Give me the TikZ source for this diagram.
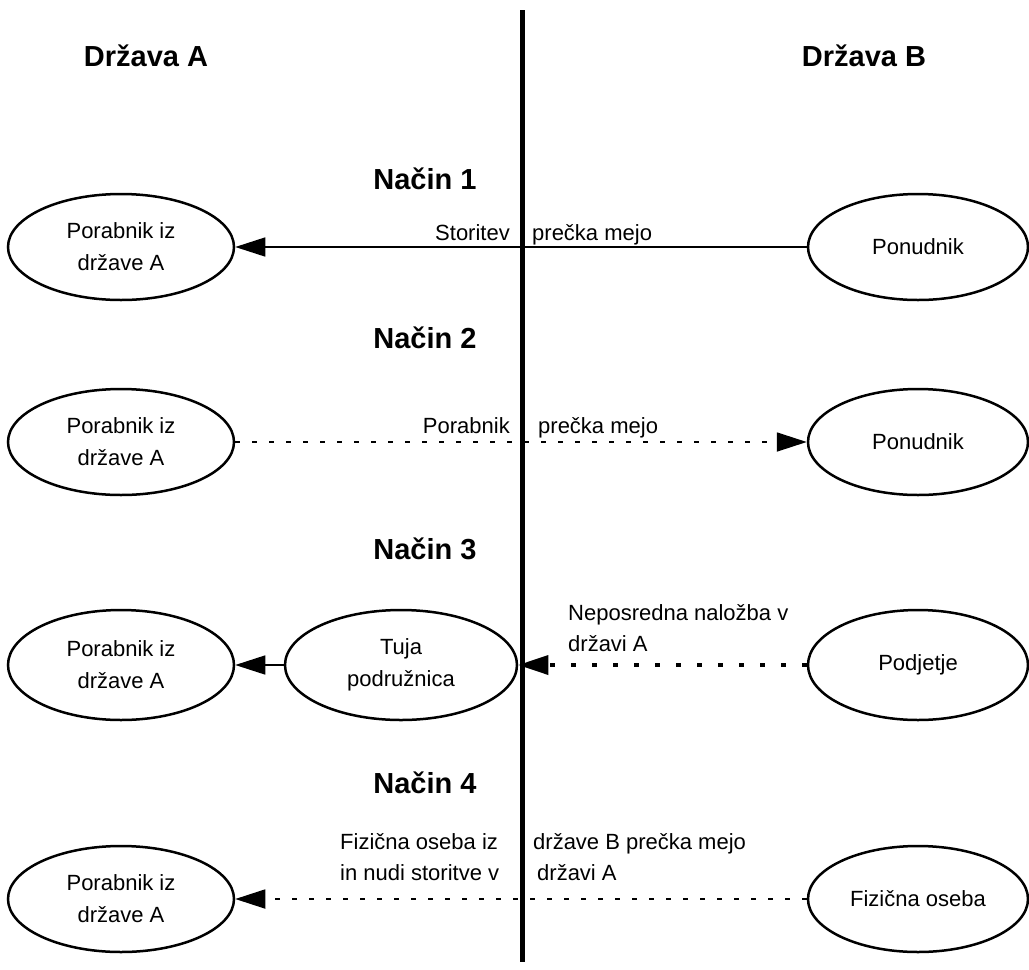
\documentclass[tikz,border=0pt]{standalone}
\usepackage{fontspec}
\setmainfont{Liberation Sans}
\usetikzlibrary{shapes.geometric,arrows.meta}
\tikzset{
  oval/.style={draw=black, line width=2.5pt, ellipse, inner sep=0pt, align=center,
    minimum width=226pt, minimum height=106pt, font=\fontsize{22}{32}\selectfont},
  roval/.style={oval, minimum width=220pt},
  midoval/.style={oval, minimum width=232pt, minimum height=110pt},
  lbl/.style={inner sep=0pt, align=left, font=\fontsize{22}{31}\selectfont},
  head/.style={inner sep=0pt, font=\bfseries\fontsize{29}{35}\selectfont},
  tip/.style={-{Triangle[length=30pt,width=19pt]}},
  solidcon/.style={tip, line width=1.5pt},
  dashcon/.style={tip, line width=1.8pt, dash pattern=on 5pt off 12pt},
  dotcon/.style={tip, line width=3.5pt, dash pattern=on 5pt off 16pt},
  border/.style={line width=5pt}
}
\begin{document}
\begin{tikzpicture}[x=1pt,y=-1pt]
\useasboundingbox (0,0) rectangle (1029,970);
% headings
\node[head, anchor=base] (dA) at (146,66) {Država A};
\node[head, anchor=base] (dB) at (864,66) {Država B};
\node[head, anchor=base] (n1) at (425,189) {Način 1};
\node[head, anchor=base] (n2) at (425,348) {Način 2};
\node[head, anchor=base] (n3) at (425,559) {Način 3};
\node[head, anchor=base] (n4) at (425,793) {Način 4};
% row 1
\node[oval] (por1) at (121,247) {Porabnik iz\\države A};
\node[roval] (pon1) at (918,247) {Ponudnik};
\draw[solidcon] (pon1) -- (por1);
\node[lbl, anchor=base east] (l1a) at (510,240) {Storitev};
\node[lbl, anchor=base west] (l1b) at (532,240) {prečka mejo};
% row 2
\node[oval] (por2) at (121,442) {Porabnik iz\\države A};
\node[roval] (pon2) at (918,442) {Ponudnik};
\draw[dashcon] (por2) -- (pon2);
\node[lbl, anchor=base east] (l2a) at (510,433) {Porabnik};
\node[lbl, anchor=base west] (l2b) at (538,433) {prečka mejo};
% row 3
\node[oval, minimum height=110pt] (por3) at (121,665) {Porabnik iz\\države A};
\node[midoval] (tuja) at (401,665) {Tuja\\podružnica};
\node[roval, minimum height=110pt] (podj) at (918,665) {Podjetje};
\draw[solidcon] (tuja) -- (por3);
\draw[dotcon] (podj) -- (tuja);
\node[lbl, anchor=base west] (l3) at (568,651) {Neposredna naložba v\\državi A};
% row 4
\node[oval] (por4) at (121,899) {Porabnik iz\\države A};
\node[roval] (fiz) at (918,899) {Fizična oseba};
\draw[dashcon] (fiz) -- (por4);
\node[lbl, anchor=base west] (l4a) at (340,880) {Fizična oseba iz\\in nudi storitve v};
\node[lbl, anchor=base west] (l4b) at (533,880) {države B prečka mejo\\\hspace*{4pt}državi A};
% border line
\coordinate (btop) at (522,10);
\coordinate (bbot) at (522,962);
\draw[border] (btop) -- (bbot);
\end{tikzpicture}
\end{document}
